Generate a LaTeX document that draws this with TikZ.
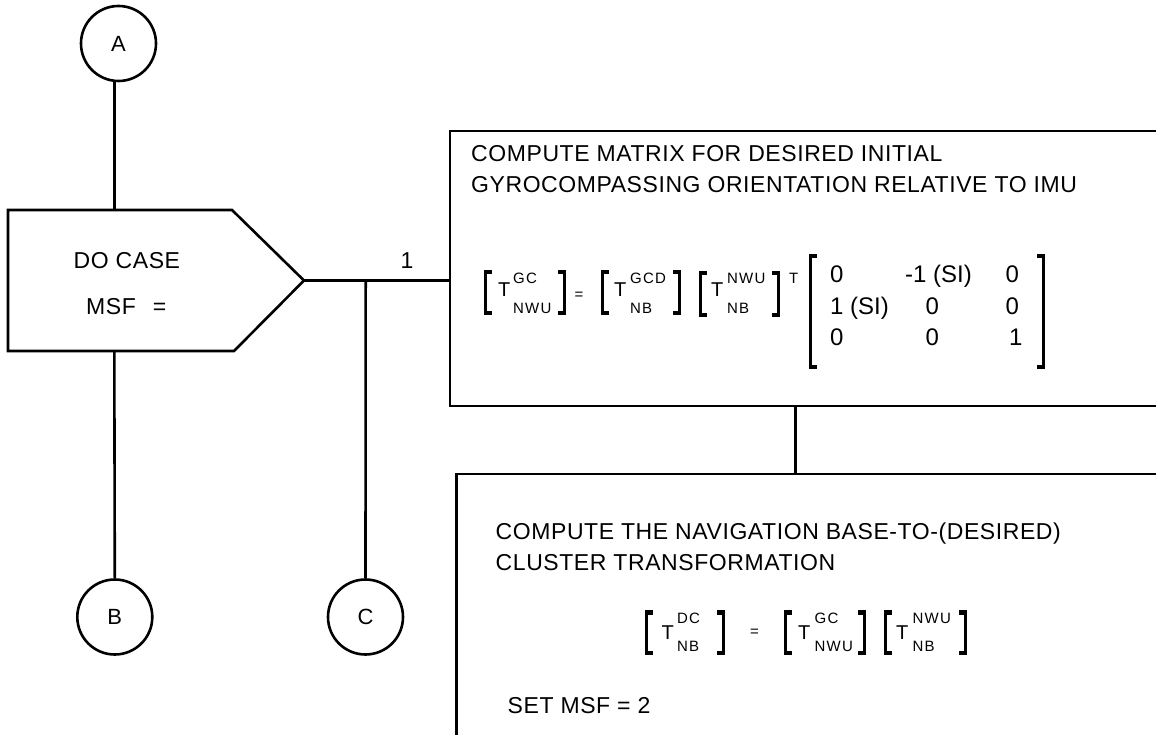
\documentclass[tikz,border=0pt]{standalone}
\usepackage{fontspec}
\setmainfont{Liberation Sans}
\newfontfamily\scrfont{Liberation Sans}[LetterSpace=8]
\newfontfamily\txtfont{Liberation Sans}[LetterSpace=2.5]
\tikzset{
  ln/.style={line width=2.6pt, line join=miter},
  conn/.style={draw, shape=circle, line width=2.6pt, minimum size=75pt, inner sep=0pt, font=\fontsize{22}{22}\selectfont},
  txt/.style={inner sep=0pt, anchor=base west, font=\txtfont\fontsize{23}{28}\selectfont},
  bigT/.style={inner sep=0pt, anchor=base west, font=\fontsize{20}{20}\selectfont},
  scr/.style={inner sep=0pt, anchor=base west, font=\scrfont\fontsize{15}{15}\selectfont},
  eqs/.style={inner sep=0pt, anchor=center, font=\fontsize{15}{15}\selectfont},
  mat/.style={inner sep=0pt, anchor=base west, font=\fontsize{24}{24}\selectfont},
}
\newcommand{\mylbr}[3]{%
  \fill (#1,#2) rectangle ++(8,4.5);
  \fill (#1,#3) rectangle ++(8,-4.5);
  \draw[line width=3pt] (#1+1.5,#2) -- (#1+1.5,#3);}
\newcommand{\myrbr}[3]{%
  \fill (#1,#2) rectangle ++(-8,4.5);
  \fill (#1,#3) rectangle ++(-8,-4.5);
  \draw[line width=3pt] (#1-1.5,#2) -- (#1-1.5,#3);}
\begin{document}
\begin{tikzpicture}[x=1pt,y=-1pt]
\useasboundingbox (0,0) rectangle (1156,735);
% connectors (circles)
\node[conn] (A) at (118.5,43.5) {A};
\node[conn] (B) at (114.8,617) {B};
\node[conn] (C) at (365.5,617) {C};
% do case hexagon
\coordinate (hexTop) at (114.3,210);
\coordinate (hexBot) at (114.3,351);
\coordinate (hexTip) at (304,280.5);
\draw[ln] (8,210) -- (232,210) -- (hexTip) -- (234,351) -- (8,351) -- cycle;
\node[txt] (docase) at (73.5,269) {DO CASE};
\node[txt] (msf) at (86,314) {MSF\hspace{17pt}=};
% box coordinates
\coordinate (b1w) at (450,280.5);
\coordinate (jC) at (365.7,280.5);
\coordinate (b1s) at (795.7,406);
\coordinate (b2n) at (795.7,474);
% connectors
\draw[ln] (A.south -| hexTop) -- (hexTop);
\draw[ln] (hexBot) -- (B.north);
\draw[ln] (hexTip) -- (b1w);
\draw[ln] (jC) -- (C.north);
\draw[ln] (b1s) -- (b2n);
\node[txt, anchor=base] (one) at (407,269) {1};
% box 1
\draw[ln] (1160,131) -- (450,131) -- (450,406) -- (1160,406);
\node[txt] (t1a) at (471,162) {COMPUTE MATRIX FOR DESIRED INITIAL};
\node[txt] (t1b) at (471,193) {GYROCOMPASSING ORIENTATION RELATIVE TO IMU};
% equation 1
\mylbr{484}{270}{315}
\node[bigT] (e1T1) at (498,297) {T};
\node[scr] (e1s1) at (513,283.5) {GC};
\node[scr] (e1u1) at (513,313.5) {NWU};
\myrbr{566}{270}{315}
\node[eqs] (e1eq) at (579,296) {=};
\mylbr{601}{270}{315}
\node[bigT] (e1T2) at (614,297) {T};
\node[scr] (e1s2) at (630,283.5) {GCD};
\node[scr] (e1u2) at (630,313.5) {NB};
\myrbr{681}{270}{315}
\mylbr{699}{271}{317}
\node[bigT] (e1T3) at (711,297) {T};
\node[scr] (e1s3) at (727,283.5) {NWU};
\node[scr] (e1u3) at (727,313.5) {NB};
\myrbr{780}{271}{317}
\node[scr] (e1tr) at (789,283.5) {T};
\mylbr{809}{254}{369}
\myrbr{1045}{254}{369}
\node[mat] (m11) at (830,283) {0};
\node[mat] (m12) at (905,283) {-1 (SI)};
\node[mat] (m13) at (1005.5,283) {0};
\node[mat] (m21) at (830,314) {1 (SI)};
\node[mat] (m22) at (925.5,314) {0};
\node[mat] (m23) at (1005.5,314) {0};
\node[mat] (m31) at (830,345) {0};
\node[mat] (m32) at (925.5,345) {0};
\node[mat] (m33) at (1009,345) {1};
% box 2
\draw[ln] (1160,474) -- (456.7,474) -- (456.7,740);
\node[txt] (t2a) at (495.5,539) {COMPUTE THE NAVIGATION BASE-TO-(DESIRED)};
\node[txt] (t2b) at (495.5,570) {CLUSTER TRANSFORMATION};
% equation 2
\mylbr{645}{610}{655}
\node[bigT] (e2T1) at (661.5,639) {T};
\node[scr] (e2s1) at (677,623.3) {DC};
\node[scr] (e2u1) at (677,651.7) {NB};
\myrbr{725}{610}{655}
\node[eqs] (e2eq) at (754.5,633) {=};
\mylbr{784}{610}{655}
\node[bigT] (e2T2) at (798,639) {T};
\node[scr] (e2s2) at (814.5,623.3) {GC};
\node[scr] (e2u2) at (814.5,651.7) {NWU};
\myrbr{866}{610}{655}
\mylbr{884}{610}{655}
\node[bigT] (e2T3) at (896,639) {T};
\node[scr] (e2s3) at (912.5,623.3) {NWU};
\node[scr] (e2u3) at (912.5,651.7) {NB};
\myrbr{967}{610}{655}
\node[txt] (setmsf) at (507.5,713) {SET MSF = 2};
\end{tikzpicture}
\end{document}
